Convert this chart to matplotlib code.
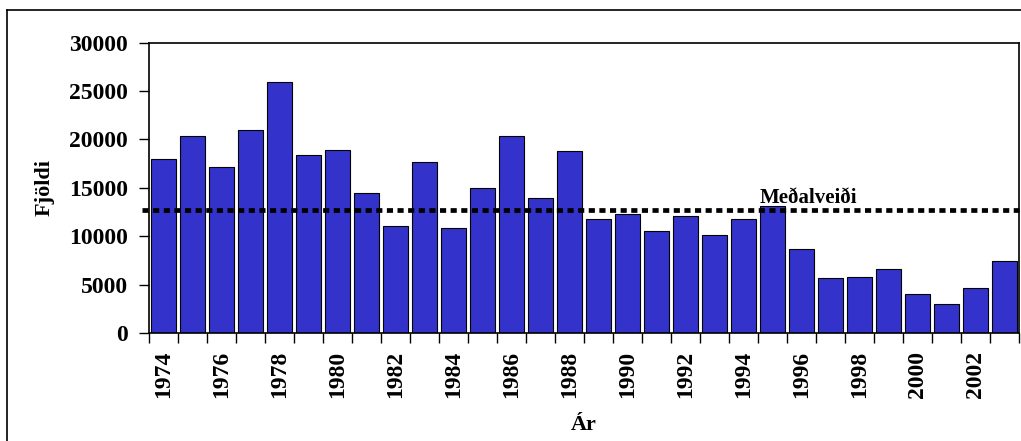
import numpy as np
import matplotlib
matplotlib.use("Agg")
import matplotlib.pyplot as plt
from matplotlib.lines import Line2D

years = list(range(1974, 2004))
values = [18030, 20380, 17140, 20930, 25970, 18410, 18930, 14480, 11100, 17720,
          10900, 15030, 20380, 13930, 18830, 11760, 12310, 10520, 12140, 10140,
          11760, 13170, 8720, 5690, 5830, 6590, 4030, 3000, 4620, 7480]
mean_catch = 12720
mean_label = "Meðalveiði"
ylabel = "Fjöldi"
xlabel = "Ár"
yticks = [0, 5000, 10000, 15000, 20000, 25000, 30000]

plt.rcParams['font.family'] = ['Liberation Serif', 'DejaVu Serif']
plt.rcParams['font.weight'] = 'bold'

fig = plt.figure(figsize=(10.21, 4.41), dpi=100)
ax = fig.add_axes([149/1021, 1 - 333/441, 870/1021, (333-42.7)/441])

x = np.arange(len(years))
ax.bar(x, values, width=0.84, color='#3333CC', edgecolor='black', linewidth=0.8, zorder=2)

ax.axhline(mean_catch, xmin=-7/870, xmax=1, color='black', linewidth=3.4,
           linestyle=(0, (1.3, 0.95)), dash_capstyle='butt', clip_on=False, zorder=3)
ax.text(20.55, mean_catch + 730, mean_label, fontsize=15, fontweight='bold',
        ha='left', va='baseline', zorder=4)

ax.set_xlim(-0.5, len(years) - 0.5)
ax.set_ylim(0, 30000)
ax.set_yticks(yticks)
ax.set_yticklabels([str(v) for v in yticks])
ax.tick_params(axis='y', length=7, width=1, direction='out', pad=8, labelsize=17)

ax.set_xticks(x[::2])
ax.set_xticklabels([str(y) for y in years[::2]], rotation=90)
ax.tick_params(axis='x', which='major', length=0, pad=13, labelsize=17)
ax.set_xticks(np.arange(-0.5, len(years), 1), minor=True)
ax.tick_params(axis='x', which='minor', length=7, width=1, direction='out')

for s in ax.spines.values():
    s.set_linewidth(1.2)
    s.set_color('black')

ax.set_ylabel(ylabel, fontsize=16, fontweight='bold')
ax.set_xlabel(xlabel, fontsize=16, fontweight='bold')
ax.yaxis.set_label_coords(-94/870, 0.5)
ax.xaxis.set_label_coords(0.5, -(430-333)/290.3)
ax.xaxis.label.set_va('baseline')

# outer chart border
fig.add_artist(Line2D([7/1021, 1], [1 - 9.5/441, 1 - 9.5/441], color='black', linewidth=1.2))
fig.add_artist(Line2D([7/1021, 7/1021], [0, 1 - 9.5/441], color='black', linewidth=1.2))

fig.savefig('out.png', dpi=100)
